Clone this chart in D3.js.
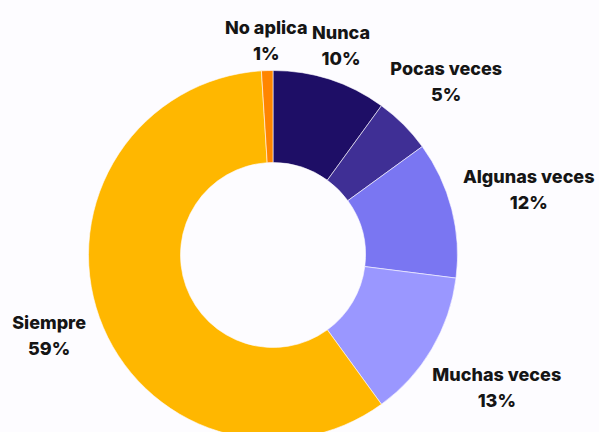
<!DOCTYPE html>
<html>
<head>
<meta charset="utf-8">
<script src="https://cdn.jsdelivr.net/npm/d3@7"></script>
<style>
  html, body { margin: 0; padding: 0; background: #fdfcff; }
  svg { display: block; }
  .lbl { font-family: Inter, "Noto Sans", sans-serif; font-weight: 800; font-size: 18px; fill: #151515; }
</style>
</head>
<body>
<div id="grafika"></div>
<script>
// datos de la encuesta
const categories = ["Nunca", "Pocas veces", "Algunas veces", "Muchas veces", "Siempre", "No aplica"];
const values = [10, 5, 12, 13, 59, 1];
const colors = ["#1e0e66", "#3f2f95", "#7a76f2", "#9a97ff", "#ffb700", "#ff8500"];

const width = 599, height = 432;
const cx = 273, cy = 255;
const outer = 184.5, inner = 92.5;
// distancia de cada etiqueta al centro (disposición, no datos)
const label_r = [220, 245, 264, 260, 238, 215];
const line_gap = 26;

const svg = d3.select("#grafika")
  .append("svg")
  .attr("width", width)
  .attr("height", height);

const g = svg.append("g")
  .attr("transform", `translate(${cx}, ${cy})`);

const pie = d3.pie().sort(null).startAngle(0).endAngle(2 * Math.PI);
const arcs = pie(values);

const arc_generator = d3.arc()
  .innerRadius(inner)
  .outerRadius(outer);

g.selectAll("path")
  .data(arcs)
  .enter()
  .append("path")
  .attr("d", arc_generator)
  .attr("fill", (d, i) => colors[i])
  .attr("stroke", "#fdfcff")
  .attr("stroke-width", 0.6);

const labels = g.selectAll("g.label")
  .data(arcs)
  .enter()
  .append("g")
  .attr("class", "label")
  .attr("transform", (d, i) => {
    const c = d3.arc().innerRadius(label_r[i]).outerRadius(label_r[i]).centroid(d);
    return `translate(${c[0]}, ${c[1]})`;
  });

labels.append("text")
  .attr("class", "lbl")
  .attr("text-anchor", "middle")
  .attr("y", -line_gap / 2 + 6.5)
  .text((d, i) => categories[i]);

labels.append("text")
  .attr("class", "lbl")
  .attr("text-anchor", "middle")
  .attr("y", line_gap / 2 + 6.5)
  .text(d => d.data + "%");
</script>
</body>
</html>
